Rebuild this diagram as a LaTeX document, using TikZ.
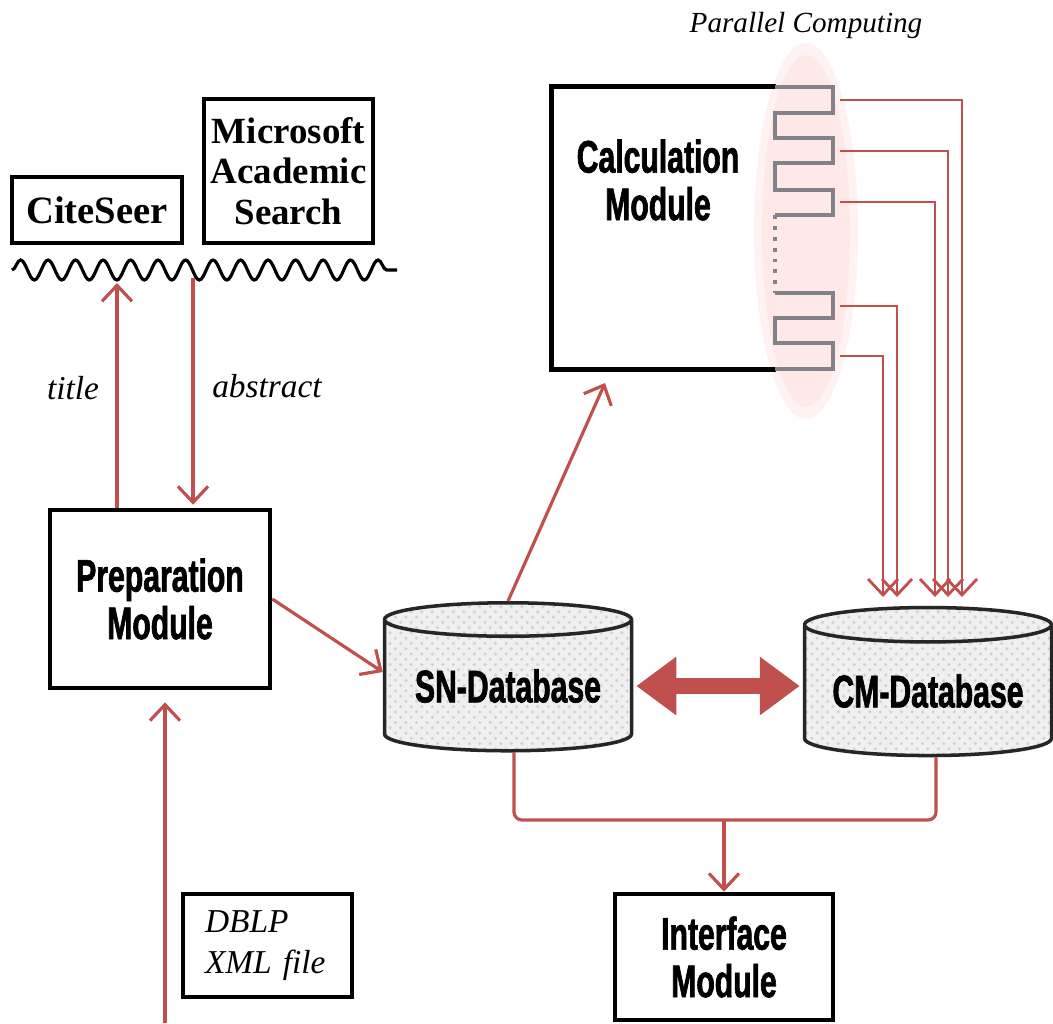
\documentclass[tikz,border=0pt]{standalone}
\usepackage{fontspec}
\setmainfont{Liberation Serif}
\newfontfamily\impact[FakeStretch=0.66, UprightFont=*/B, FakeBold=1.4]{Liberation Sans}
\usetikzlibrary{shapes.geometric,arrows.meta,decorations.pathmorphing,patterns}

\definecolor{flowred}{RGB}{192,80,77}
\definecolor{combgray}{RGB}{130,130,136}

\tikzset{
  srcbox/.style={draw=black, line width=1.3pt, fill=white, inner sep=0pt, align=center,
    font=\bfseries\fontsize{11}{11.6}\selectfont},
  modbox/.style={draw=black, line width=1.3pt, fill=white, inner sep=0pt, align=center,
    font=\impact\fontsize{13}{13.5}\selectfont},
  dbase/.style={cylinder, shape border rotate=90, aspect=0.18, draw=black!85, line width=1pt,
    minimum width=24.7mm, minimum height=14.8mm, inner sep=0pt,
    preaction={fill=gray!12}, pattern=crosshatch dots, pattern color=gray!35,
    font=\impact\fontsize{13}{13.5}\selectfont},
  flow/.style={draw=flowred, line width=0.9pt, -{Straight Barb[length=1.6mm,width=3mm]}},
  lbl/.style={font=\itshape\fontsize{9.5}{11}\selectfont},
  comb/.style={draw=combgray, line width=1.1pt}
}

\begin{document}
\begin{tikzpicture}[x=0.1mm,y=-0.1mm]
   \useasboundingbox (0,0) rectangle (1053,1023);

   % parallel computing
   \fill[red!5] (806,231) ellipse [x radius=5.2mm, y radius=18.8mm];
   \fill[red!9] (806,231) ellipse [x radius=4.4mm, y radius=17.6mm];
   \node[lbl, font=\itshape\fontsize{8.3}{10}\selectfont] (parlbl) at (806,25) {Parallel Computing};

   % sources
   \node[srcbox, minimum width=17mm, minimum height=6.6mm] (cite) at (97,210) {CiteSeer};
   \node[srcbox, minimum width=16.9mm, minimum height=14.4mm, font=\bfseries\fontsize{10.5}{11.6}\selectfont]
      (msas) at (288.5,171) {Microsoft\\Academic\\Search};
   \draw[line width=0.9pt, decorate, decoration={snake, amplitude=1mm, segment length=2.75mm}]
      (12,270) -- (397,270);
   \coordinate (w1) at (117,283);
   \coordinate (w2) at (193,278);

   % modules
   \node[modbox, minimum width=22mm, minimum height=17.8mm] (prep) at (160,599) {Preparation\\Module};
   \node[modbox, minimum width=21.8mm, minimum height=12.6mm] (iface) at (724,957) {Interface\\Module};
   \node[minimum width=22.3mm, minimum height=28.2mm, inner sep=0pt] (calc) at (663.5,228) {};
   \draw[line width=1.3pt] (calc.north east) -- (calc.north west) -- (calc.south west) -- (calc.south east);
   \node[font=\impact\fontsize{13}{13.5}\selectfont, align=center] (calctxt) at (658,180)
      {Calculation\\Module};

   % parallel parts
   \draw[comb] (775,87) -- (833,87) -- (833,113) -- (775,113) -- (775,138) -- (833,138) -- (833,163)
      -- (775,163) -- (775,190) -- (833,190) -- (833,215) -- (775,215);
   \draw[comb, dotted] (775,215) -- (775,293);
   \draw[comb] (775,293) -- (833,293) -- (833,318) -- (775,318) -- (775,343) -- (833,343) -- (833,369)
      -- (775,369);

   \node[srcbox, minimum width=16.9mm, minimum height=10.3mm, font=\itshape\fontsize{9.5}{11.5}\selectfont,
      align=left, text width=12.5mm] (dblp) at (267.5,945.5) {DBLP\\XML file};

   % databases
   \node[dbase] (sn) at (508,686) {SN-Database};
   \node[dbase] (cm) at (928,691) {CM-Database};

   % labels
   \node[lbl] (ttl) at (73,388) {title};
   \node[lbl] (abs) at (267,386) {abstract};

   % connectors
   \draw[flow] (prep.north -| w1) -- (w1);
   \draw[flow, shorten >=0.3mm] (w2) -- (prep.north -| w2);
   \coordinate (dblpin) at (165,1023);
   \draw[flow, shorten >=1.2mm] (dblpin) -- (prep.south -| dblpin);
   \draw[flow] (prep.east) -- ([yshift=1.4mm]sn.west);
   \coordinate (calcin) at (605,383);
   \draw[flow] (sn.north) -- (calcin);
   \draw[flowred, line width=4.5pt, {Triangle[length=4mm,width=5.6mm]}-{Triangle[length=4mm,width=5.6mm]},
      shorten <=0.3mm, shorten >=0.3mm] (sn.east) -- (sn.east -| cm.west);

   \coordinate (join) at (iface.north |- 0,820);
   \draw[flowred, line width=0.9pt, rounded corners=0.8mm] ([xshift=0.6mm]sn.south) |- (join)
      -| ([xshift=0.8mm]cm.south);
   \draw[flow] (join) -- (iface.north);

   % parallel outputs
   \coordinate (p1) at (840,100);  \coordinate (c1) at (962,597);
   \coordinate (p2) at (840,151);  \coordinate (c2) at (948,597);
   \coordinate (p3) at (840,202);  \coordinate (c3) at (935,597);
   \coordinate (p4) at (840,306);  \coordinate (c4) at (897,597);
   \coordinate (p5) at (840,356);  \coordinate (c5) at (883,597);
   \draw[flow, line width=0.8pt] (p1) -| (c1);
   \draw[flow, line width=0.8pt] (p2) -| (c2);
   \draw[flow, line width=0.8pt] (p3) -| (c3);
   \draw[flow, line width=0.8pt] (p4) -| (c4);
   \draw[flow, line width=0.8pt] (p5) -| (c5);
\end{tikzpicture}
\end{document}
